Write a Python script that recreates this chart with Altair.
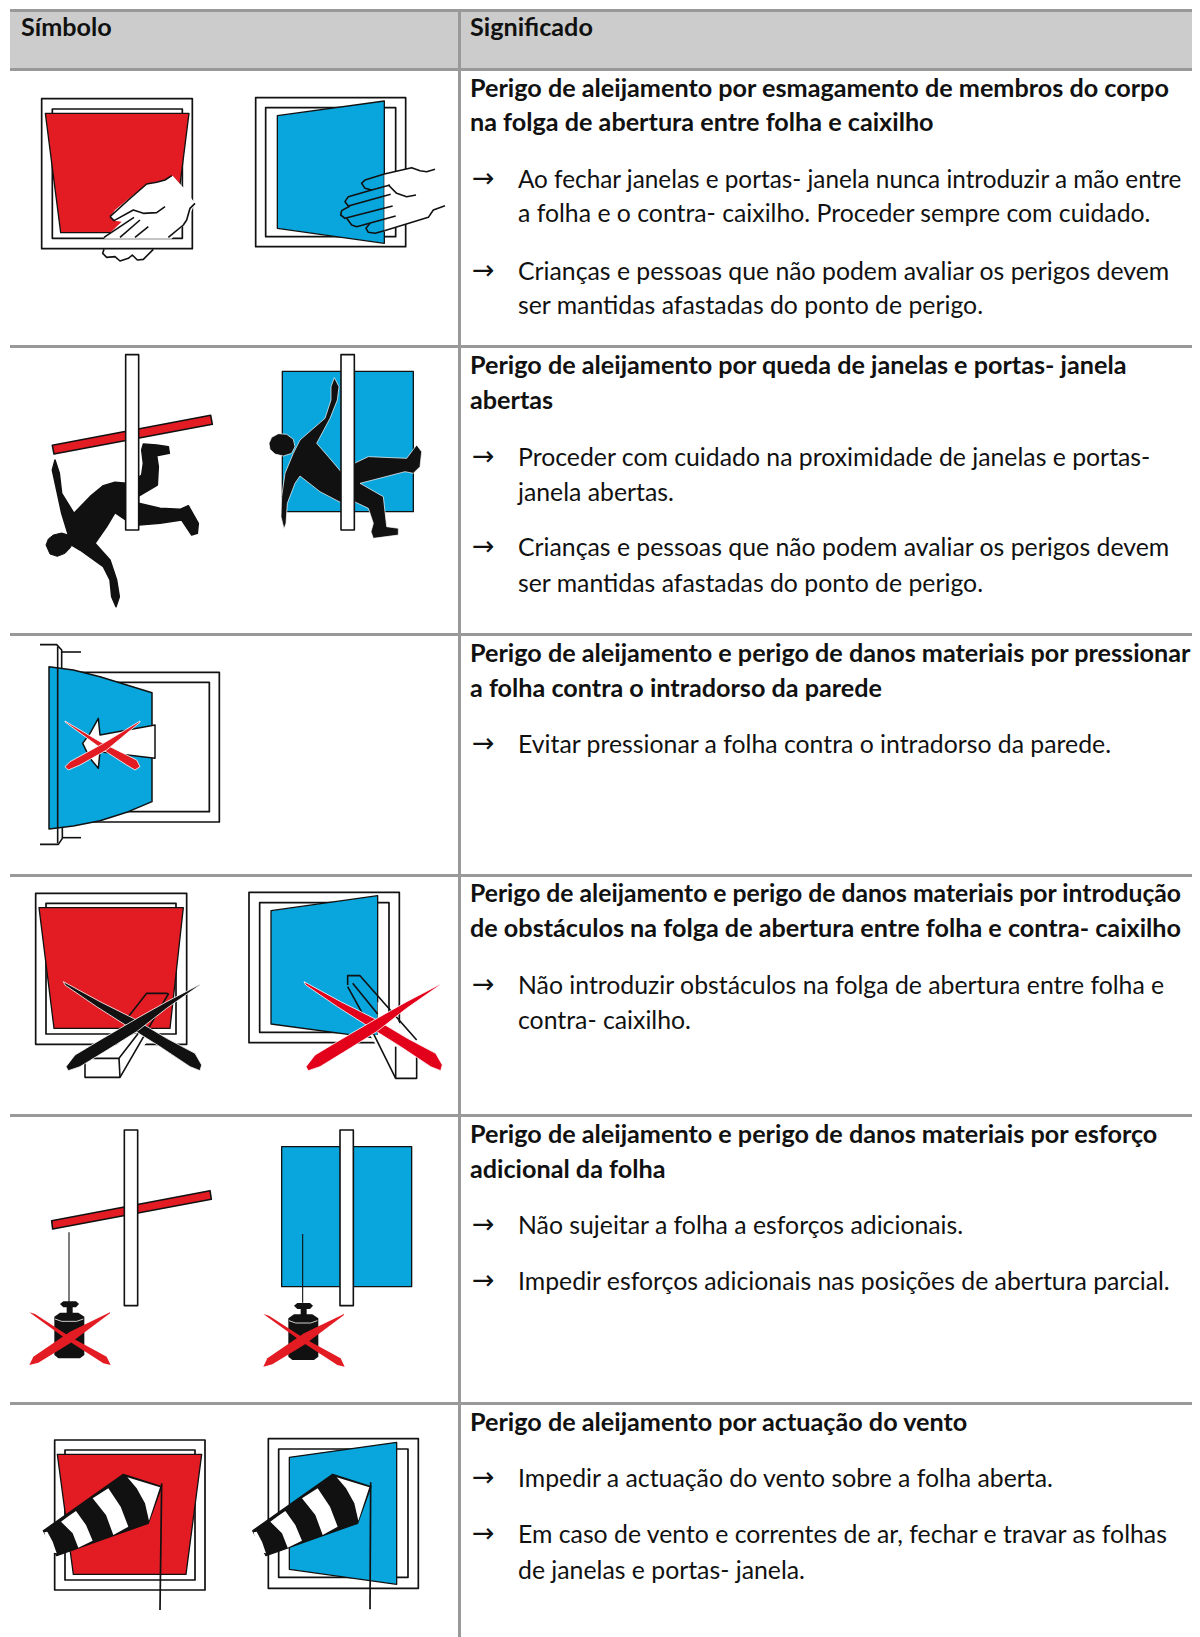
import altair as alt

# ---------- text of the table ----------
HEADERS = ["Símbolo", "Significado"]
HEADER_X = [21, 470]
HEADER_Y = [36, 36]

TITLE_LINES = [
    "Perigo de aleijamento por esmagamento de membros do corpo",
    "na folga de abertura entre folha e caixilho",
    "Perigo de aleijamento por queda de janelas e portas- janela",
    "abertas",
    "Perigo de aleijamento e perigo de danos materiais por pressionar",
    "a folha contra o intradorso da parede",
    "de obstáculos na folga de abertura entre folha e contra- caixilho",
    "Perigo de aleijamento e perigo de danos materiais por esforço",
    "adicional da folha",
    "Perigo de aleijamento por actuação do vento",
]
TITLE_Y = [97, 131, 374, 409, 662, 697, 937, 1143, 1178, 1431]
LONG_TITLE = ["Perigo de aleijamento e perigo de danos materiais por introdução"]
LONG_TITLE_Y = [902]

BODY_LINES = [
    "a folha e o contra- caixilho. Proceder sempre com cuidado.",
    "Crianças e pessoas que não podem avaliar os perigos devem",
    "ser mantidas afastadas do ponto de perigo.",
    "Proceder com cuidado na proximidade de janelas e portas-",
    "janela abertas.",
    "Crianças e pessoas que não podem avaliar os perigos devem",
    "ser mantidas afastadas do ponto de perigo.",
    "Evitar pressionar a folha contra o intradorso da parede.",
    "Não introduzir obstáculos na folga de abertura entre folha e",
    "contra- caixilho.",
    "Não sujeitar a folha a esforços adicionais.",
    "Impedir esforços adicionais nas posições de abertura parcial.",
    "Impedir a actuação do vento sobre a folha aberta.",
    "Em caso de vento e correntes de ar, fechar e travar as folhas",
    "de janelas e portas- janela.",
]
BODY_Y = [222, 280, 314, 466, 501, 556, 592, 753, 994, 1029, 1234, 1290, 1487, 1543, 1579]
LONG_BODY = ["Ao fechar janelas e portas- janela nunca introduzir a mão entre"]
LONG_BODY_Y = [188]
ARROW_Y = [188, 280, 466, 556, 753, 994, 1234, 1290, 1487, 1543]

# ---------- table rules (page pixels) ----------
PAGE_BOX = [(8, 8), (1192, 8), (1192, 1637), (8, 1637)]
HEADER_BAND = [(10, 11), (1192, 11), (1192, 69), (10, 69)]
H_RULE_Y = [10.5, 69.5, 346.5, 634.5, 875.5, 1115.5, 1403.5]
V_RULE_X = 459.5

# ---------- pictogram outlines (read at 3x, converted below) ----------
W_OUTER_1 = [(125, 296), (577, 296), (577, 746), (125, 746)]
W_INNER_1 = [(157, 327), (547, 327), (547, 715), (157, 715)]
LEAF_RED_1 = [(136, 340), (567, 340), (522, 698), (182, 698)]
HAND_L_FILL = [(330, 650), (345, 630), (440, 552), (495, 540), (518, 527), (552, 565), (585, 610), (560, 665),
               (515, 716), (312, 716), (365, 665), (342, 662)]
HAND_L_LINES = [
    [(330, 650), (385, 600), (440, 552), (470, 547), (495, 540), (515, 527)],
    [(330, 650), (342, 662), (400, 630), (430, 640), (470, 638), (495, 620)],
    [(312, 712), (402, 652)],
    [(360, 712), (420, 660)],
    [(405, 712), (445, 680)],
    [(505, 712), (550, 675), (560, 660), (570, 625), (585, 610)],
    [(312, 748), (308, 760), (320, 772), (345, 770), (360, 783), (385, 775), (397, 765), (412, 780), (430, 778), (460, 748)],
]
W_OUTER_2 = [(767, 293), (1217, 293), (1217, 740), (767, 740)]
W_INNER_2 = [(797, 323), (1187, 323), (1187, 710), (797, 710)]
LEAF_BLUE_2 = [(832, 347), (1153, 303), (1153, 730), (832, 685)]
HAND_R_FILL = [(1153, 522), (1205, 510), (1235, 503), (1265, 514), (1305, 508), (1335, 617), (1305, 625), (1285, 652),
               (1225, 670), (1153, 695)]
HAND_R_LINES = [
    [(1305, 508), (1280, 515), (1260, 512), (1235, 503), (1153, 522), (1095, 540), (1085, 550), (1095, 565), (1115, 570), (1170, 555)],
    [(1165, 555), (1190, 580), (1220, 590), (1248, 585)],
    [(1115, 570), (1045, 590), (1035, 605), (1045, 618), (1172, 583)],
    [(1050, 618), (1025, 632), (1022, 645), (1035, 655), (1178, 618)],
    [(1040, 655), (1055, 675), (1070, 680), (1187, 648)],
    [(1110, 670), (1098, 685), (1105, 697), (1125, 700), (1153, 692)],
    [(1153, 692), (1285, 652), (1300, 630), (1335, 617)],
]

RED_BAR = [(157, 316), (632, 226), (637, 253), (162, 342)]
WHITE_BAR_A = [(377, 44), (416, 44), (416, 570), (377, 570)]
FIGURE_A = [(165, 360), (178, 400), (185, 460), (222, 520), (270, 470), (310, 437), (345, 427), (380, 430), (400, 430),
            (416, 412), (425, 405), (430, 370), (425, 330), (430, 312), (470, 315), (505, 320), (508, 340), (470, 347),
            (475, 380), (472, 435), (416, 468), (416, 490), (480, 505), (540, 508), (565, 497), (595, 550), (592, 580),
            (575, 585), (545, 540), (480, 550), (416, 555), (377, 540), (345, 518), (320, 560), (285, 610), (330, 660),
            (350, 720), (358, 770), (348, 800), (335, 770), (330, 720), (310, 680), (240, 630), (215, 615), (205, 585),
            (185, 520), (170, 450), (157, 390)]
HEAD_A = [(138, 615), (145, 597), (160, 585), (185, 579), (205, 585), (218, 603), (212, 622), (195, 640), (172, 649), (150, 642)]
BLUE_SQ_B = [(847, 94), (1240, 94), (1240, 515), (847, 515)]
WHITE_BAR_B = [(1023, 44), (1063, 44), (1063, 570), (1023, 570)]
FIGURE_B = [(1003, 113), (1017, 140), (1012, 180), (990, 235), (950, 310), (985, 350), (1023, 395), (1063, 370),
            (1105, 350), (1220, 355), (1250, 315), (1265, 335), (1260, 380), (1240, 400), (1215, 395), (1080, 430),
            (1150, 470), (1160, 560), (1195, 565), (1195, 585), (1120, 595), (1113, 575), (1120, 550), (1105, 505),
            (1063, 485), (1023, 488), (960, 455), (900, 408), (885, 430), (862, 490), (858, 550), (852, 567), (843, 530),
            (845, 470), (855, 400), (880, 340), (900, 300), (975, 235), (993, 180), (993, 140)]
HEAD_B = [(807, 310), (815, 292), (835, 281), (860, 283), (880, 298), (885, 320), (875, 340), (850, 348), (825, 342), (810, 328)]

W_OUTER_3 = [(175, 127), (658, 127), (658, 576), (175, 576)]
W_INNER_3 = [(200, 157), (628, 157), (628, 545), (200, 545)]
LEAF_BLUE_3 = [(147, 110), (220, 120), (300, 140), (456, 188), (456, 515), (385, 545), (300, 572), (220, 588), (147, 597)]
WALL_LINES = [
    [(120, 44), (170, 44), (185, 60), (185, 115)],
    [(185, 66), (243, 66)],
    [(173, 50), (173, 640)],
    [(120, 643), (175, 643), (187, 625), (187, 592)],
    [(187, 623), (243, 623)],
]
HAND_ARROW = [(295, 265), (300, 315), (465, 285), (465, 385), (300, 365), (295, 415), (270, 385), (248, 340), (270, 310)]
X3_A = [(195, 273), (300, 335), (410, 390), (420, 410), (405, 420), (380, 405), (310, 360), (195, 276)]
X3_B = [(420, 273), (310, 340), (210, 395), (195, 410), (205, 420), (240, 405), (320, 360), (420, 277)]

W_OUTER_4 = [(107, 70), (560, 70), (560, 523), (107, 523)]
W_INNER_4 = [(138, 100), (528, 100), (528, 492), (138, 492)]
LEAF_RED_4 = [(117, 113), (550, 113), (510, 475), (162, 475)]
WEDGE_L_FILL = [(255, 622), (255, 568), (285, 565), (340, 530), (400, 492), (470, 478), (360, 622)]
WEDGE_L_LINES = [
    [(255, 575), (255, 622), (360, 622), (505, 372), (500, 370), (440, 370), (385, 440)],
    [(280, 565), (357, 565), (415, 490)],
    [(357, 565), (360, 622)],
]
X4_A = [(190, 335), (300, 395), (400, 445), (500, 505), (585, 550), (605, 585), (600, 602), (570, 590), (480, 530),
        (400, 480), (290, 410), (195, 345)]
X4_B = [(600, 343), (500, 395), (420, 440), (300, 510), (225, 555), (198, 590), (205, 602), (240, 590), (330, 535),
        (410, 485), (500, 415), (600, 345)]
W_OUTER_5 = [(747, 67), (1198, 67), (1198, 518), (747, 518)]
W_INNER_5 = [(779, 98), (1167, 98), (1167, 487), (779, 487)]
LEAF_BLUE_5 = [(813, 122), (1133, 77), (1133, 505), (813, 462)]
WEDGE_R_FILL = [(1133, 395), (1250, 510), (1250, 625), (1187, 625), (1110, 495), (1133, 495)]
WEDGE_R_LINES = [
    [(1043, 345), (1043, 317), (1080, 317), (1250, 510)],
    [(1043, 350), (1120, 490), (1187, 625), (1250, 625), (1250, 535)],
    [(1058, 340), (1133, 432)],
    [(1187, 530), (1187, 625)],
]

RED_BAR_6 = [(155, 332), (630, 242), (634, 268), (158, 357)]
WHITE_BAR_6 = [(373, 60), (413, 60), (413, 587), (373, 587)]
THREAD_6 = [(207, 367), (207, 575)]
KNOB = [(180, 582), (190, 574), (228, 574), (237, 582), (228, 592), (190, 592)]
NECK = [(200, 590), (218, 590), (218, 612), (200, 612)]
WEIGHT = [(163, 620), (180, 608), (235, 608), (253, 620), (253, 735), (240, 745), (175, 745), (163, 735)]
WEIGHT_GLINT = [(165, 627), (185, 634), (230, 634), (250, 627)]
X6_A = [(88, 607), (105, 612), (210, 680), (320, 740), (332, 765), (310, 760), (210, 695)]
X6_B = [(330, 607), (210, 665), (100, 740), (88, 765), (115, 758), (210, 700), (330, 610)]
BLUE_SQ_7 = [(845, 110), (1235, 110), (1235, 530), (845, 530)]
WHITE_BAR_7 = [(1020, 60), (1060, 60), (1060, 587), (1020, 587)]
THREAD_7 = [(908, 372), (908, 578)]

W_OUTER_8 = [(164, 120), (615, 120), (615, 570), (164, 570)]
W_INNER_8 = [(195, 150), (585, 150), (585, 540), (195, 540)]
LEAF_RED_8 = [(172, 163), (605, 163), (558, 523), (220, 523)]
SOCK = [(130, 392), (370, 223), (485, 260), (445, 370), (170, 467)]
SOCK_S1 = [(183, 365), (205, 349), (228, 333), (258, 375), (278, 422), (235, 443), (218, 400)]
SOCK_S2 = [(278, 295), (325, 265), (362, 320), (385, 380), (340, 405), (318, 345)]
SOCK_S3 = [(382, 232), (480, 262), (447, 362), (435, 310), (410, 265)]
SOCK_MOUTH = [(133, 397), (142, 395), (158, 425), (170, 460), (160, 458), (140, 428)]
POLE_8 = [(485, 250), (480, 630)]
W_OUTER_9 = [(805, 116), (1255, 116), (1255, 565), (805, 565)]
W_INNER_9 = [(836, 147), (1224, 147), (1224, 532), (836, 532)]
LEAF_BLUE_9 = [(868, 172), (1190, 127), (1190, 553), (868, 508)]
POLE_9 = [(1112, 247), (1110, 628)]

RED = "#E31B23"
RED2 = "#E2001A"
BLUE = "#08A6DC"
BLACK = "#111111"
RULE = "#999999"
GREY = "#CCCCCC"

features = []


def add(kind, pts, fill="none", stroke="none", sw=0.0):
    coords = [[float(x), float(y)] for x, y in pts]
    if kind == "Polygon":
        coords = coords + [coords[0]]
        geom = {"type": "Polygon", "coordinates": [coords]}
    else:
        geom = {"type": "LineString", "coordinates": coords}
    features.append({"type": "Feature", "geometry": geom,
                     "properties": {"fill": fill, "stroke": stroke, "sw": sw}})


def conv(pts, top, dx=0, dy=0):
    return [((x + dx) / 3, top + (y + dy) / 3) for x, y in pts]


def poly(pts, top, fill, stroke="none", sw=0.0, dx=0, dy=0):
    add("Polygon", conv(pts, top, dx, dy), fill, stroke, sw)


def line(pts, top, sw=1.6, stroke=BLACK, dx=0, dy=0):
    add("LineString", conv(pts, top, dx, dy), "none", stroke, sw)


# invisible page box: pins the projection to page pixels
add("Polygon", PAGE_BOX)
# table
add("Polygon", HEADER_BAND, GREY)
for y in H_RULE_Y:
    add("LineString", [(10, y), (1192, y)], "none", RULE, 3)
add("LineString", [(V_RULE_X, 10), (V_RULE_X, 1637)], "none", RULE, 3)

# row 1
T = 0
poly(W_OUTER_1, T, "none", BLACK, 1.7)
poly(W_INNER_1, T, "none", BLACK, 1.7)
poly(LEAF_RED_1, T, RED, BLACK, 1.3)
poly(HAND_L_FILL, T, "white")
for p in HAND_L_LINES:
    line(p, T)
poly(W_OUTER_2, T, "none", BLACK, 1.7)
poly(W_INNER_2, T, "none", BLACK, 1.7)
poly(LEAF_BLUE_2, T, BLUE, BLACK, 1.3)
poly(HAND_R_FILL, T, "white")
for p in HAND_R_LINES:
    line(p, T)

# row 2
T = 340
poly(RED_BAR, T, RED, BLACK, 1.6)
poly(FIGURE_A, T, BLACK, BLACK, 1.5)
poly(HEAD_A, T, BLACK, BLACK, 1)
poly(WHITE_BAR_A, T, "white", BLACK, 1.6)
poly(BLUE_SQ_B, T, BLUE, BLACK, 1.3)
poly(FIGURE_B, T, BLACK, "white", 0.7)
poly(HEAD_B, T, BLACK, "white", 0.7)
poly(WHITE_BAR_B, T, "white", BLACK, 1.6)

# row 3
T = 630
poly(W_OUTER_3, T, "none", BLACK, 1.7)
poly(W_INNER_3, T, "none", BLACK, 1.7)
poly(LEAF_BLUE_3, T, BLUE, BLACK, 1.5)
for p in WALL_LINES:
    line(p, T)
poly(HAND_ARROW, T, "white", BLACK, 1.5)
poly(X3_A, T, RED, "white", 0.8)
poly(X3_B, T, RED, "white", 0.8)

# row 4
T = 870
poly(W_OUTER_4, T, "none", BLACK, 1.7)
poly(W_INNER_4, T, "none", BLACK, 1.7)
poly(LEAF_RED_4, T, RED, BLACK, 1.3)
poly(WEDGE_L_FILL, T, "white")
for p in WEDGE_L_LINES:
    line(p, T)
poly(X4_A, T, BLACK, "white", 0.8)
poly(X4_B, T, BLACK, "white", 0.8)
poly(W_OUTER_5, T, "none", BLACK, 1.7)
poly(W_INNER_5, T, "none", BLACK, 1.7)
poly(LEAF_BLUE_5, T, BLUE, BLACK, 1.3)
poly(WEDGE_R_FILL, T, "white")
for p in WEDGE_R_LINES:
    line(p, T)
poly(X4_A, T, RED2, "white", 0.8, dx=722)
poly(X4_B, T, RED2, "white", 0.8, dx=720)

# row 5
T = 1110
poly(RED_BAR_6, T, RED, BLACK, 1.6)
poly(WHITE_BAR_6, T, "white", BLACK, 1.6)
line(THREAD_6, T, 1.1)
poly(KNOB, T, BLACK)
poly(NECK, T, BLACK)
poly(WEIGHT, T, BLACK)
line(WEIGHT_GLINT, T, 0.8, "white")
poly(X6_A, T, RED)
poly(X6_B, T, RED)
poly(BLUE_SQ_7, T, BLUE, BLACK, 1.3)
poly(WHITE_BAR_7, T, "white", BLACK, 1.6)
line(THREAD_7, T, 1.1)
poly(KNOB, T, BLACK, dx=702, dy=5)
poly(NECK, T, BLACK, dx=702, dy=5)
poly(WEIGHT, T, BLACK, dx=702, dy=5)
line(WEIGHT_GLINT, T, 0.8, "white", dx=702, dy=5)
poly(X6_A, T, RED, dx=702, dy=5)
poly(X6_B, T, RED, dx=702, dy=5)

# row 6
T = 1400
poly(W_OUTER_8, T, "none", BLACK, 1.7)
poly(W_INNER_8, T, "none", BLACK, 1.7)
poly(LEAF_RED_8, T, RED, BLACK, 1.3)
poly(W_OUTER_9, T, "none", BLACK, 1.7)
poly(W_INNER_9, T, "none", BLACK, 1.7)
poly(LEAF_BLUE_9, T, BLUE, BLACK, 1.3)
for dx in [0, 628]:
    poly(SOCK, T, BLACK, BLACK, 1.2, dx=dx)
    poly(SOCK_S1, T, "white", dx=dx)
    poly(SOCK_S2, T, "white", dx=dx)
    poly(SOCK_S3, T, "white", dx=dx)
    poly(SOCK_MOUTH, T, "white", dx=dx)
line(POLE_8, T, 1.7)
line(POLE_9, T, 1.7)

shapes = alt.Chart(alt.Data(values=features, format=alt.DataFormat(type="json"))).mark_geoshape(
    strokeJoin="round", strokeCap="butt"
).encode(
    fill=alt.Fill("properties.fill:N", scale=None),
    stroke=alt.Stroke("properties.stroke:N", scale=None),
    strokeWidth=alt.StrokeWidth("properties.sw:Q", scale=None),
).project(type="identity", scale=1, translate=[-8, -8])

X_SCALE = alt.Scale(domain=[8, 1192], nice=False, zero=False)
Y_SCALE = alt.Scale(domain=[1637, 8], nice=False, zero=False)

FONT = "Lato"


def text_layer(lines, xs, ys, **kw):
    values = [{"t": t, "x": x, "y": y} for t, x, y in zip(lines, xs, ys)]
    return alt.Chart(alt.Data(values=values)).mark_text(
        align="left", baseline="alphabetic", color="#111111", **kw
    ).encode(
        x=alt.X("x:Q", scale=X_SCALE, axis=None),
        y=alt.Y("y:Q", scale=Y_SCALE, axis=None),
        text="t:N",
    )


layers = [
    shapes,
    text_layer(HEADERS, HEADER_X, HEADER_Y, font=FONT, fontSize=25.2, fontWeight="bold"),
    text_layer(TITLE_LINES, [470] * len(TITLE_LINES), TITLE_Y, font=FONT, fontSize=25.2, fontWeight="bold"),
    text_layer(LONG_TITLE, [470], LONG_TITLE_Y, font=FONT, fontSize=24.7, fontWeight="bold"),
    text_layer(BODY_LINES, [518] * len(BODY_LINES), BODY_Y, font=FONT, fontSize=24.8),
    text_layer(LONG_BODY, [518], LONG_BODY_Y, font=FONT, fontSize=24.3),
    text_layer(["→"] * len(ARROW_Y), [472] * len(ARROW_Y), [y - 1 for y in ARROW_Y], font="DejaVu Sans", fontSize=27),
]

chart = alt.layer(*layers).properties(
    width=1184, height=1629, padding=0, background="white",
    autosize=alt.AutoSizeParams(type="none"),
).configure_view(stroke=None)

chart.save("out.html", embed_options={"renderer": "svg", "actions": False})
